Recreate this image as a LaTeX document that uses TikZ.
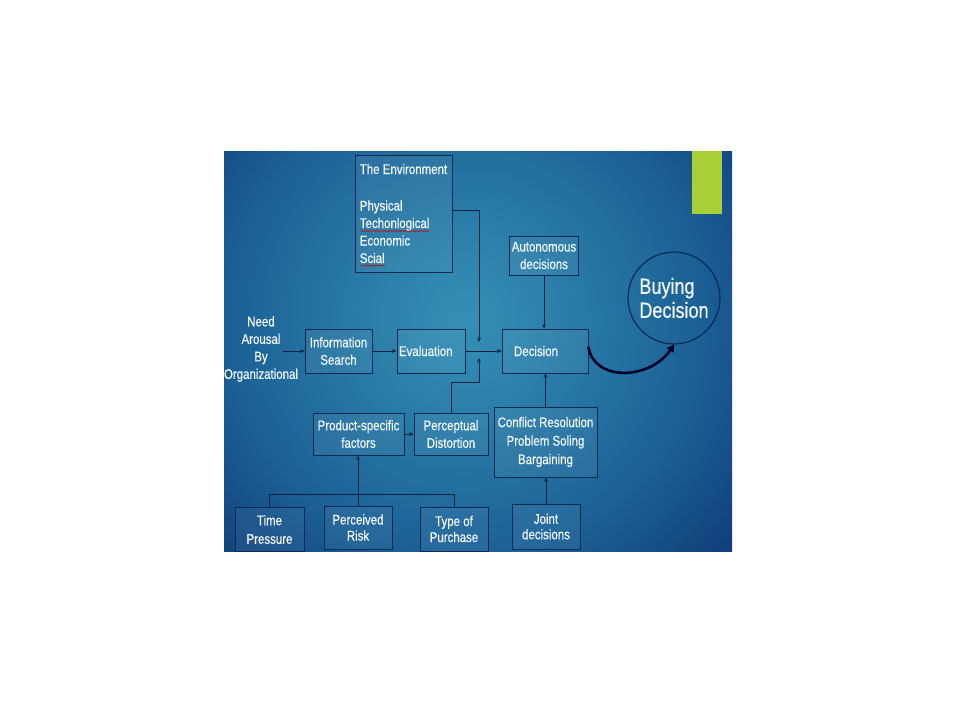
\documentclass[tikz,border=0pt]{standalone}
\usepackage{fontspec}
\setmainfont{Liberation Sans}[FakeStretch=0.82,FakeBold=0.4]
\usetikzlibrary{arrows.meta,decorations.pathmorphing}
\definecolor{bgc}{HTML}{3590B5}
\definecolor{bgma}{HTML}{2A7DA8}
\definecolor{bgmb}{HTML}{1B6096}
\definecolor{bgmc}{HTML}{103E78}
\definecolor{bgo}{HTML}{0A2C62}
\definecolor{boxline}{HTML}{0E2A50}
\definecolor{linecol}{HTML}{0A2242}
\definecolor{accent}{HTML}{A9CF38}
\definecolor{txt}{HTML}{F4F8FB}
\pgfdeclareradialshading{slidebg}{\pgfpoint{0bp}{0bp}}{color(0bp)=(bgc); color(6bp)=(bgma); color(14bp)=(bgmb); color(21bp)=(bgmc); color(27bp)=(bgo); color(50bp)=(bgo)}
\begin{document}
\begin{tikzpicture}[x=1pt,y=-1pt,
  font=\fontsize{14}{17.5}\selectfont,
  box/.style={draw=boxline, line width=0.9pt, fill=white, fill opacity=0.05, text opacity=1, text=txt, align=center, inner sep=2pt},
  conn/.style={draw=linecol, line width=0.8pt, -{Stealth[length=4.5pt,width=4pt]}},
  plain/.style={draw=linecol, line width=0.8pt},
  squig/.style={draw=red!80!black, line width=0.5pt, decorate, decoration={snake, amplitude=0.6pt, segment length=2.5pt}}]
\useasboundingbox (0,0) rectangle (960,720);
\begin{scope}
\clip (224,151) rectangle (732,551);
\fill[bgo] (224,151) rectangle (732,551);
\shade[shading=slidebg] (465,320) circle (420pt);
\fill[accent] (692,151) rectangle (722,214);

% nodes
\node[box, align=left, minimum width=97pt, minimum height=117pt] (env) at (403.5,213.5)
  {The Environment\\[19pt]Physical\\Techonlogical\\Economic\\Scial};
\draw[squig] (361,231) -- (429,231);
\draw[squig] (361,265.5) -- (385,265.5);

\node[box, minimum width=69pt, minimum height=39pt] (auto) at (544,255.5) {Autonomous\\decisions};
\node[draw=boxline, line width=1.2pt, circle, minimum size=92pt, text=txt, align=left,
  font=\fontsize{22}{24}\selectfont] (buy) at (674,298) {Buying\\Decision};
\node[box, text width=62pt, inner xsep=12pt, align=left, minimum height=44pt] (dec) at (545,351) {Decision};
\node[text=txt, align=center] (need) at (261,349) {Need\\Arousal\\By\\Organizational};
\node[box, minimum width=67pt, minimum height=44pt] (info) at (338.5,351) {Information\\Search};
\node[box, text width=64pt, inner xsep=2pt, align=left, minimum height=44pt] (eval) at (431,351) {Evaluation};
\node[box, minimum width=91pt, minimum height=42pt] (prod) at (358.5,434) {Product-specific\\factors};
\node[box, minimum width=74pt, minimum height=42pt] (perc) at (451,434) {Perceptual\\Distortion};
\node[box, minimum width=103pt, minimum height=70pt, font=\fontsize{14}{18.5}\selectfont] (conf) at (545.5,442) {Conflict Resolution\\Problem Soling\\Bargaining};
\node[box, minimum width=68pt, minimum height=45pt, font=\fontsize{14}{15.5}\selectfont] (joint) at (546,526.5) {Joint\\decisions};
\node[box, minimum width=69pt, minimum height=44pt, font=\fontsize{14}{18.5}\selectfont] (time) at (269.5,529.5) {Time\\Pressure};
\node[box, minimum width=68pt, minimum height=43pt, font=\fontsize{14}{16}\selectfont] (risk) at (358,527.5) {Perceived\\Risk};
\node[box, minimum width=68pt, minimum height=44pt, font=\fontsize{14}{16}\selectfont] (type) at (454,529) {Type of\\Purchase};

\coordinate (needout) at (283,351);
\coordinate (jtop) at (479,342);
\coordinate (jbot) at (479,358);

% connectors
\draw[conn] (needout) -- (info.west);
\draw[conn] (info.east) -- (eval.west);
\draw[conn] (eval.east) -- (dec.west);
\draw[conn] ([yshift=3.5pt]env.east) -| (jtop);
\draw[conn] (perc.north) -- ++(0,-30) -| (jbot);
\draw[conn] (prod.east) -- (perc.west);
\draw[conn] (auto.south) -- (auto.south |- dec.north);
\draw[conn] (conf.north) -- (conf.north |- dec.south);
\draw[conn] (joint.north) -- (joint.north |- conf.south);
\draw[conn] (risk.north) -- (risk.north |- prod.south);
\draw[plain] (time.north) -- ++(0,-13) -| (type.north);
\draw[draw=black!85!blue, line width=2.6pt, -{Triangle[length=7pt,width=8pt]}]
  ([yshift=4pt]dec.east) .. controls (594,382) and (650,380) .. (buy.south);
\end{scope}
\end{tikzpicture}
\end{document}
